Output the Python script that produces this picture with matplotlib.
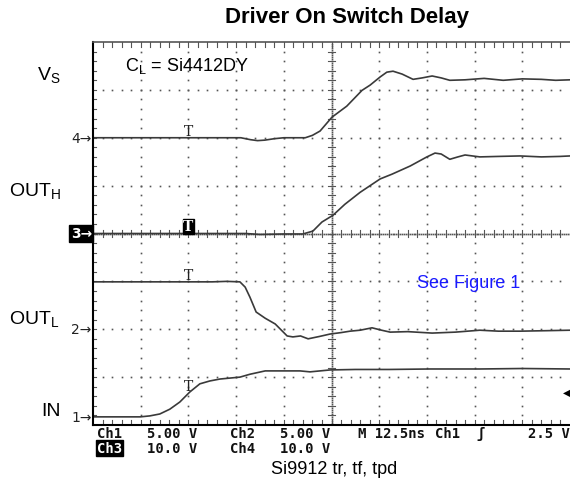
import numpy as np
import matplotlib.pyplot as plt

plt.rcParams['mathtext.fontset'] = 'custom'
plt.rcParams['mathtext.rm'] = 'Liberation Sans'

# scope traces, in screen divisions (time 0-10, level 0-8)
ch1_t = [0, 0.99, 1.19, 1.40, 1.61, 1.82, 2.03, 2.24, 2.45, 2.66, 3.08, 3.29, 3.61,
         3.92, 4.34, 4.55, 4.97, 5.5, 6.2, 7.06, 8.11, 9.0, 10.0]
ch1_v = [0.17, 0.17, 0.19, 0.23, 0.33, 0.48, 0.69, 0.86, 0.92, 0.96, 1.00, 1.06, 1.13,
         1.13, 1.13, 1.11, 1.15, 1.16, 1.16, 1.17, 1.17, 1.18, 1.17]

ch2_t = [0, 2.5, 2.8, 3.08, 3.19, 3.29, 3.42, 3.61, 3.82, 4.07, 4.19, 4.35, 4.51, 4.75,
         4.97, 5.2, 5.39, 5.6, 5.85, 6.05, 6.23, 6.6, 7.11, 7.6, 8.11, 8.5, 8.95, 9.5, 10.0]
ch2_v = [2.99, 2.99, 3.0, 2.99, 2.88, 2.67, 2.36, 2.23, 2.11, 1.86, 1.84, 1.86, 1.80, 1.85,
         1.90, 1.93, 1.96, 1.98, 2.03, 1.98, 1.94, 1.95, 1.92, 1.94, 1.98, 1.96, 1.96, 1.97, 1.98]

ch3_t = [0, 3.2, 3.5, 4.0, 4.4, 4.61, 4.8, 5.03, 5.28, 5.6, 6.02, 6.27, 6.65, 7.0, 7.17,
         7.3, 7.48, 7.65, 7.8, 8.11, 8.5, 8.95, 9.4, 9.79, 10.0]
ch3_v = [4.0, 4.0, 3.98, 3.99, 3.99, 4.05, 4.24, 4.38, 4.61, 4.86, 5.14, 5.24, 5.41, 5.6, 5.68,
         5.66, 5.55, 5.6, 5.64, 5.6, 5.61, 5.62, 5.6, 5.61, 5.62]

ch4_t = [0, 3.1, 3.3, 3.45, 3.6, 3.8, 4.0, 4.45, 4.6, 4.76, 5.01, 5.32, 5.64, 5.81, 6.02,
         6.16, 6.29, 6.48, 6.71, 6.9, 7.11, 7.3, 7.48, 7.8, 8.2, 8.6, 9.0, 9.4, 9.7, 10.0]
ch4_v = [6.0, 6.0, 5.96, 5.94, 5.95, 5.98, 6.0, 6.0, 6.05, 6.14, 6.43, 6.66, 6.99, 7.10, 7.27,
         7.37, 7.39, 7.33, 7.22, 7.25, 7.29, 7.25, 7.20, 7.21, 7.24, 7.20, 7.23, 7.22, 7.20, 7.21]

marker_levels = [0.17, 2.0, 4.0, 6.0]
marker_names = ['1', '2', '3', '4']
trig_time = 2.0
trig_level = 0.69

W, H = 570, 485
def fx(x):
    return x / W
def fy(y):
    return 1 - y / H

fig = plt.figure(figsize=(W / 100, H / 100), dpi=100)
ax = fig.add_axes([fx(93), fy(426), 477 / W, 383 / H])
ax.set_xlim(0, 10)
ax.set_ylim(0, 8)
ax.set_xticks([])
ax.set_yticks([])
for s in ['left', 'bottom']:
    ax.spines[s].set_linewidth(1.5)
    ax.spines[s].set_color('black')
ax.spines['top'].set_color('#555555')
ax.spines['top'].set_linewidth(1.2)
ax.spines['right'].set_visible(False)

# graticule
dot_kw = dict(ls='none', marker='s', ms=1.2, color='#555555', mew=0)
minor = np.arange(0.2, 8.0, 0.2)
for i in range(1, 10):
    if i == 5:
        continue
    ax.plot(np.full_like(minor, i), minor, **dot_kw)
minor_x = np.arange(0.2, 10.0, 0.2)
for j in range(1, 8):
    if j == 4:
        continue
    ax.plot(minor_x, np.full_like(minor_x, j), **dot_kw)
# center crosshair
fine_y = np.arange(0.04, 8.0, 0.04)
fine_x = np.arange(0.04, 10.0, 0.04)
ax.plot(np.full_like(fine_y, 5), fine_y, **dot_kw)
ax.plot(fine_x, np.full_like(fine_x, 4), **dot_kw)
tk = 0.07
for y in minor:
    ax.plot([5 - tk, 5 + tk], [y, y], color='#555555', lw=0.8)
for x in minor_x:
    ax.plot([x, x], [4 - tk, 4 + tk], color='#555555', lw=0.8)
# border ticks
for x in minor_x:
    ax.plot([x, x], [8, 8 - 0.1], color='#555555', lw=0.8)
    ax.plot([x, x], [0, 0.1], color='#555555', lw=0.8)
for y in minor:
    ax.plot([0, 0.06], [y, y], color='#555555', lw=0.8)

# traces
trace_kw = dict(color='#3a3a3a', lw=1.2)
ax.plot(ch4_t, ch4_v, **trace_kw)
ax.plot(ch3_t, ch3_v, **trace_kw)
ax.plot(ch2_t, ch2_v, **trace_kw)
ax.plot(ch1_t, ch1_v, **trace_kw)

# trigger position marks on each trace
for t, v, boxed in [(ch4_t, ch4_v, False), (ch3_t, ch3_v, True),
                    (ch2_t, ch2_v, False), (ch1_t, ch1_v, False)]:
    lvl = np.interp(trig_time, t, v)
    if boxed:
        ax.text(trig_time, lvl, 'T', ha='center', va='bottom', fontsize=10,
                family='DejaVu Serif', color='white', fontweight='bold',
                bbox=dict(boxstyle='square,pad=0.05', fc='black', ec='black'))
    else:
        ax.text(trig_time, lvl, 'T', ha='center', va='bottom', fontsize=10,
                family='DejaVu Serif', color='#222222')

# channel ground markers
for lvl, name in zip(marker_levels, marker_names):
    if name == '3':
        ax.text(-0.02, lvl, name + '\u2192', ha='right', va='center', fontsize=10,
                color='white', fontweight='bold', clip_on=False,
                bbox=dict(boxstyle='square,pad=0.1', fc='black', ec='black'))
    else:
        ax.text(-0.03, lvl, name + '\u2192', ha='right', va='center', fontsize=10,
                color='#222222', clip_on=False)
# trigger level marker
ax.text(10.0, trig_level, '\u25c0', ha='right', va='center', fontsize=7,
        color='black', clip_on=False)

# channel names
lab_kw = dict(family='Liberation Sans', fontsize=14, color='black', va='center')
fig.text(fx(37), fy(76), r'V$_\mathregular{S}$', **lab_kw)
fig.text(fx(9), fy(192), r'OUT$_\mathregular{H}$', **lab_kw)
fig.text(fx(9), fy(320), r'OUT$_\mathregular{L}$', **lab_kw)
fig.text(fx(41), fy(412), 'IN', **lab_kw)

fig.text(fx(125), fy(66), r'C$_\mathregular{L}$ = Si4412DY', family='Liberation Sans',
         fontsize=13, va='center')
fig.text(fx(417), fy(283), 'See Figure 1', family='Liberation Sans', fontsize=13,
         color='#1a1aff', va='center')

fig.text(fx(347), fy(18), 'Driver On Switch Delay', family='Liberation Sans',
         fontsize=16, fontweight='bold', ha='center', va='center')
fig.text(fx(334), fy(470), 'Si9912 tr, tf, tpd', family='Liberation Sans',
         fontsize=13, ha='center', va='center')

# scope status line
st_kw = dict(family='DejaVu Sans Mono', fontsize=10, fontweight='bold',
             color='#111111', va='center')
fig.text(fx(97), fy(434), 'Ch1', **st_kw)
fig.text(fx(147), fy(434), '5.00 V', **st_kw)
fig.text(fx(230), fy(434), 'Ch2', **st_kw)
fig.text(fx(280), fy(434), '5.00 V', **st_kw)
fig.text(fx(358), fy(434), 'M 12.5ns', **st_kw)
fig.text(fx(435), fy(434), 'Ch1', **st_kw)
fig.text(fx(476), fy(434), '\u0283', **st_kw)
fig.text(fx(528), fy(434), '2.5 V', **st_kw)
fig.text(fx(97), fy(449), 'Ch3', color='white', family='DejaVu Sans Mono', fontsize=10,
         fontweight='bold', va='center',
         bbox=dict(boxstyle='square,pad=0.05', fc='black', ec='black'))
fig.text(fx(147), fy(449), '10.0 V', **st_kw)
fig.text(fx(230), fy(449), 'Ch4', **st_kw)
fig.text(fx(280), fy(449), '10.0 V', **st_kw)

fig.savefig('out.png', dpi=100)
